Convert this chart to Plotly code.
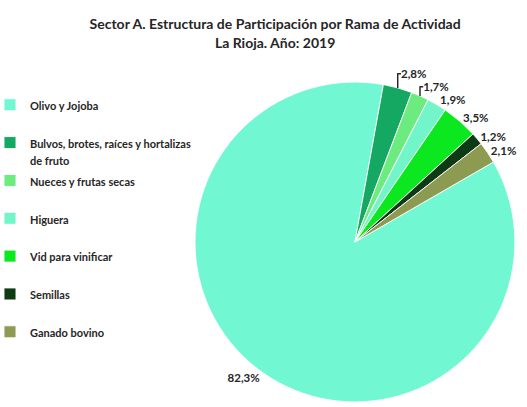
import plotly.graph_objects as go

categories = [
    "Olivo y Jojoba",
    "Bulvos, brotes, raíces y hortalizas<br>de fruto",
    "Nueces y frutas secas",
    "Higuera",
    "Vid para vinificar",
    "Semillas",
    "Ganado bovino",
]
values = [82.3, 2.8, 1.7, 1.9, 3.5, 1.2, 2.1]
colors = ["#72F7D3", "#14A862", "#6CEB7E", "#72F5C8", "#0BE81F", "#0E3A14", "#8C9A52"]

legend_labels = ['<span style="font-size:11px">' + c + '</span>' + ("" if "<br>" in c else "<br> ") for c in categories]

fig = go.Figure(go.Pie(
    labels=legend_labels,
    values=values,
    sort=False,
    direction="clockwise",
    rotation=60,
    marker=dict(colors=colors, line=dict(color="rgba(255,255,255,0.9)", width=1)),
    textposition="outside",
    texttemplate="%{value:.1f}%",
    textfont=dict(family="Lato", size=11.5, color="#262626", weight="bold"),
    domain=dict(x=[0.370, 0.977], y=[0.0098, 0.801]),
    hoverinfo="label+value",
))

fig.update_layout(
    width=527, height=407,
    margin=dict(l=0, r=0, t=0, b=0, autoexpand=False),
    paper_bgcolor="white",
    separators=",.",
    title=dict(
        text="Sector A. Estructura de Participación por Rama de Actividad<br>La Rioja. Año: 2019",
        x=0.522, xanchor="center", y=0.928, yanchor="top",
        font=dict(family="Lato", size=14, color="#262626", weight="bold"),
    ),
    legend=dict(
        x=-0.019, y=0.78, xanchor="left", yanchor="top",
        valign="top",
        font=dict(family="Lato", size=13.4, color="#262626", weight="bold"),
        bgcolor="rgba(0,0,0,0)",
    ),
    showlegend=True,
)

fig.write_html("out.html", config={"displayModeBar": False},
               post_script="document.body.style.margin='0';")
